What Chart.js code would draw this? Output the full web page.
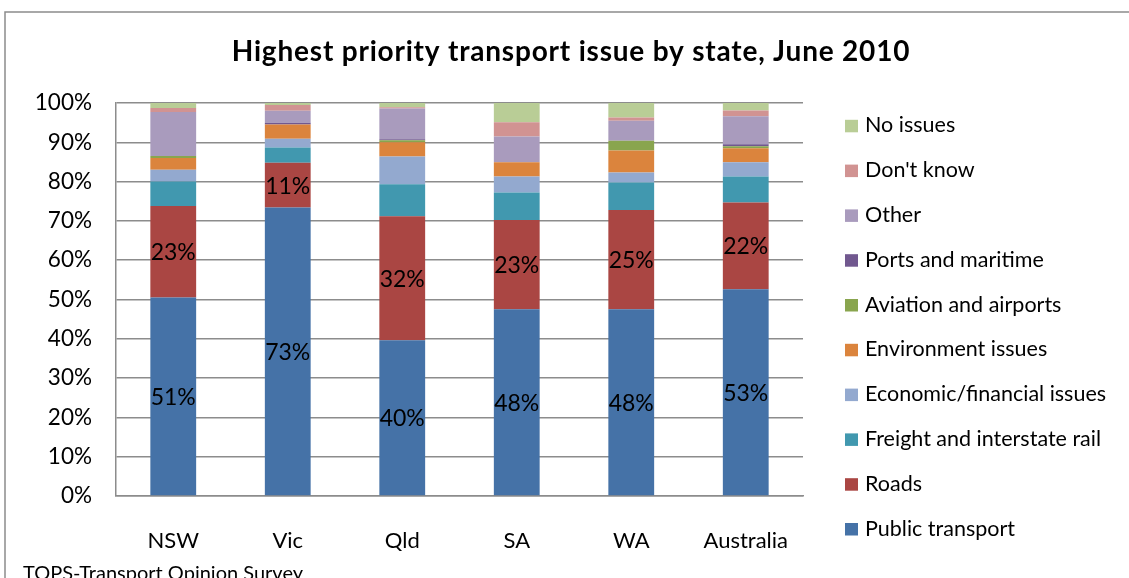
<!DOCTYPE html>
<html>
<head>
<meta charset="utf-8">
<script src="https://cdn.jsdelivr.net/npm/chart.js@4"></script>
<style>
  html, body { margin: 0; padding: 0; background: #fff; }
  #wrap { width: 1129px; height: 578px; position: relative; }
</style>
</head>
<body>
<div id="wrap"><canvas id="c" width="1129" height="578"></canvas></div>
<script>
const chartTitle = 'Highest priority transport issue by state, June 2010';
const sourceNote = 'TOPS-Transport Opinion Survey';
const categories = ['NSW', 'Vic', 'Qld', 'SA', 'WA', 'Australia'];
const yTicks = [0, 10, 20, 30, 40, 50, 60, 70, 80, 90, 100];

const publicTransport = [50.5, 73.4, 39.6, 47.5, 47.5, 52.6];
const roads           = [23.3, 11.4, 31.6, 22.7, 25.3, 22.1];
const freightRail     = [6.2, 3.9, 8.1, 7.0, 7.0, 6.6];
const economic        = [3.0, 2.2, 7.1, 4.1, 2.5, 3.6];
const environment     = [3.0, 3.6, 3.6, 3.6, 5.6, 3.6];
const aviation        = [0.5, 0.0, 0.5, 0.0, 2.5, 0.5];
const ports           = [0.0, 0.5, 0.3, 0.0, 0.0, 0.5];
const other           = [11.2, 3.0, 7.8, 6.6, 5.1, 7.1];
const dontKnow        = [1.0, 1.5, 0.3, 3.6, 0.8, 1.5];
const noIssues        = [1.3, 0.5, 1.1, 4.9, 3.7, 1.9];

const seriesNames = ['Public transport', 'Roads', 'Freight and interstate rail',
  'Economic/financial issues', 'Environment issues', 'Aviation and airports',
  'Ports and maritime', 'Other', "Don't know", 'No issues'];
const seriesValues = [publicTransport, roads, freightRail, economic, environment,
  aviation, ports, other, dontKnow, noIssues];
const seriesColors = ['#4572A7', '#AA4643', '#4198AF', '#93A9CF', '#DB843D',
  '#89A54E', '#71588F', '#A99BBD', '#D19392', '#B9CD96'];
const labelledSeries = [0, 1];

const FONT = 'Lato, "Open Sans", sans-serif';
const GRID = '#8c8c8c';

const decorPlugin = {
  id: 'decor',
  afterDraw(chart) {
    const ctx = chart.ctx;
    ctx.save();
    // outer frame
    ctx.strokeStyle = GRID;
    ctx.lineWidth = 1.5;
    ctx.beginPath();
    ctx.moveTo(5, 578);
    ctx.lineTo(5, 12);
    ctx.lineTo(1129, 12);
    ctx.stroke();
    // title
    ctx.fillStyle = '#000';
    ctx.font = 'bold 28px ' + FONT;
    ctx.letterSpacing = '0.8px';
    ctx.textAlign = 'center';
    ctx.textBaseline = 'alphabetic';
    ctx.fillText(chartTitle, 571, 61);
    ctx.letterSpacing = '0px';
    // source note
    ctx.font = '20px ' + FONT;
    ctx.textAlign = 'left';
    ctx.fillText(sourceNote, 23, 580);
    // legend (reversed)
    ctx.font = '21.5px ' + FONT;
    for (let i = 0; i < seriesNames.length; i++) {
      const idx = seriesNames.length - 1 - i;
      const base = 132.3 + i * 44.8;
      ctx.fillStyle = seriesColors[idx];
      ctx.fillRect(845, base - 12.5, 13, 12.5);
      ctx.fillStyle = '#000';
      ctx.fillText(seriesNames[idx], 865, base);
    }
    ctx.restore();
  },
  afterDatasetsDraw(chart) {
    const ctx = chart.ctx;
    ctx.save();
    ctx.fillStyle = '#000';
    ctx.font = '23px ' + FONT;
    ctx.textAlign = 'center';
    ctx.textBaseline = 'middle';
    labelledSeries.forEach(di => {
      const meta = chart.getDatasetMeta(di);
      meta.data.forEach((bar, j) => {
        const v = chart.data.datasets[di].data[j];
        const p = bar.getProps(['x', 'y', 'base'], true);
        ctx.fillText(Math.round(v) + '%', p.x, (p.y + p.base) / 2 + 1);
      });
    });
    ctx.restore();
  }
};

new Chart(document.getElementById('c'), {
  type: 'bar',
  data: {
    labels: categories,
    datasets: seriesNames.map((n, i) => ({
      label: n,
      data: seriesValues[i],
      backgroundColor: seriesColors[i],
      borderWidth: 0,
      categoryPercentage: 1,
      barPercentage: 0.4
    }))
  },
  options: {
    responsive: false,
    animation: false,
    devicePixelRatio: 1,
    layout: { padding: { top: 103, right: 326, left: 0, bottom: 0 } },
    plugins: { legend: { display: false }, title: { display: false }, tooltip: { enabled: false } },
    scales: {
      x: {
        stacked: true,
        grid: { display: false },
        border: { display: true, color: GRID, width: 1.5 },
        ticks: { color: '#000', font: { family: FONT, size: 22 }, padding: 24, maxRotation: 0 },
        afterFit(s) { s.height = 82; }
      },
      y: {
        stacked: true,
        min: 0, max: 100,
        afterBuildTicks(s) { s.ticks = yTicks.map(v => ({ value: v })); },
        grid: { color: GRID, lineWidth: 1.5, drawTicks: false },
        border: { display: true, color: GRID, width: 1.5 },
        ticks: { color: '#000', font: { family: FONT, size: 22.5 }, padding: 24, callback: v => v + '%' },
        afterFit(s) { s.width = 116; }
      }
    }
  },
  plugins: [decorPlugin]
});
</script>
</body>
</html>
